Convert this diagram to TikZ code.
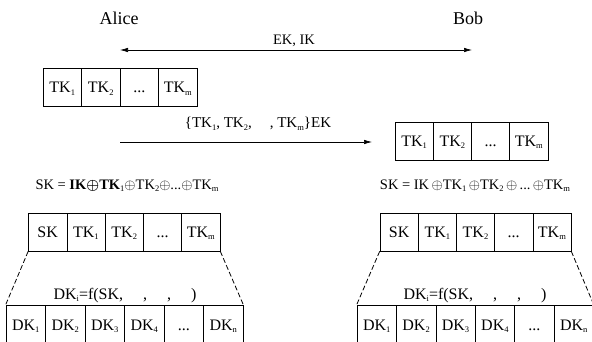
\documentclass[tikz,border=0pt]{standalone}
\usepackage{fontspec}
\setmainfont{Liberation Serif}
\usepackage{amsmath}
\usetikzlibrary{arrows.meta}
\newcommand{\sbs}[1]{\raisebox{-0.3ex}{\fontsize{8.5}{8.5}\selectfont #1}}
\newcommand{\dts}{...}
\tikzset{
  cell/.style={draw, line width=0.6pt, inner sep=0pt, minimum height=38pt,
    text height=11pt, text depth=0pt, font=\fontsize{16}{16}\selectfont},
  lbl/.style={inner sep=0pt, anchor=base, font=\fontsize{14.5}{15}\selectfont},
  person/.style={inner sep=0pt, anchor=base, font=\fontsize{18}{18}\selectfont},
  arr/.style={line width=0.7pt, -{Latex[length=8pt,width=4.5pt]}},
  dsh/.style={line width=0.8pt, dash pattern=on 5pt off 2.5pt}
}
\begin{document}
\begin{tikzpicture}[x=1pt,y=-1pt]
\useasboundingbox (0,0) rectangle (592,342);
\clip (0,0) rectangle (592,342);
% names
\node[person] (alice) at (119,25) {Alice};
\node[person] (bob) at (468,25) {Bob};
% EK IK arrow
\coordinate (e1) at (120,50);
\coordinate (e2) at (472,50);
\draw[line width=0.7pt, {Latex[length=8pt,width=4.5pt]}-{Latex[length=8pt,width=4.5pt]}] (e1) -- (e2);
\node[lbl] (ekik) at (294,45) {EK, IK};
% Alice TK row
\foreach \t [count=\i] in {TK\sbs{1},TK\sbs{2},{\dts},TK\sbs{m}}
  \node[cell, minimum width=38.5pt] (a\i) at ({62.25+38.5*(\i-1)},87.5) {\t};
% second arrow
\coordinate (t1) at (120,142);
\coordinate (t2) at (372,142);
\draw[arr] (t1) -- (t2);
\node[lbl, font=\fontsize{15}{15}\selectfont] (tkek) at (258,128) {\{TK\sbs{1}, TK\sbs{2},\hspace{18pt}, TK\sbs{m}\}EK};
% Bob TK row
\foreach \t [count=\i] in {TK\sbs{1},TK\sbs{2},{\dts},TK\sbs{m}}
  \node[cell, minimum width=38.25pt] (b\i) at ({414.1+38.25*(\i-1)},141) {\t};
% SK formulas
\node[lbl] (skl) at (127,189.5) {SK = \textbf{IK}$\boldsymbol{\oplus}$\textbf{TK}\sbs{1}$\oplus$TK\sbs{2}$\oplus$...$\oplus$TK\sbs{m}};
\node[lbl] (skr) at (475,189.5) {SK = IK\,$\oplus$TK\sbs{1}\,$\oplus$TK\sbs{2}\,$\oplus$\,...\,$\oplus$TK\sbs{m}};
% SK rows
\foreach \t [count=\i] in {SK,TK\sbs{1},TK\sbs{2},{\dts},TK\sbs{m}}{
  \node[cell, minimum width=38.3pt] (sl\i) at ({47.65+38.3*(\i-1)},232) {\t};
  \node[cell, minimum width=38.2pt] (sr\i) at ({399.1+38.2*(\i-1)},232) {\t};
}
% DK rows
\foreach \t [count=\i] in {DK\sbs{1},DK\sbs{2},DK\sbs{3},DK\sbs{4},{\dts},DK\sbs{n}}{
  \node[cell, minimum width=39.5pt, minimum height=40pt] (dl\i) at ({25.75+39.5*(\i-1)},325) {\t};
  \node[cell, minimum width=39.4pt, minimum height=40pt] (dr\i) at ({376.7+39.4*(\i-1)},325) {\t};
}
% labels
\node[lbl, font=\fontsize{16}{16}\selectfont] (fl) at (125,299) {DK\sbs{i}=f(SK,\hspace{20pt},\hspace{20pt},\hspace{20pt})};
\node[lbl, font=\fontsize{16}{16}\selectfont] (fr) at (475,299) {DK\sbs{i}=f(SK,\hspace{20pt},\hspace{20pt},\hspace{20pt})};
% dashed expansion lines
\draw[dsh] (sl1.south west) -- (dl1.north west);
\draw[dsh] (sl5.south east) -- (dl6.north east);
\draw[dsh] (sr1.south west) -- (dr1.north west);
\draw[dsh] (sr5.south east) -- (dr6.north east);
\end{tikzpicture}
\end{document}
